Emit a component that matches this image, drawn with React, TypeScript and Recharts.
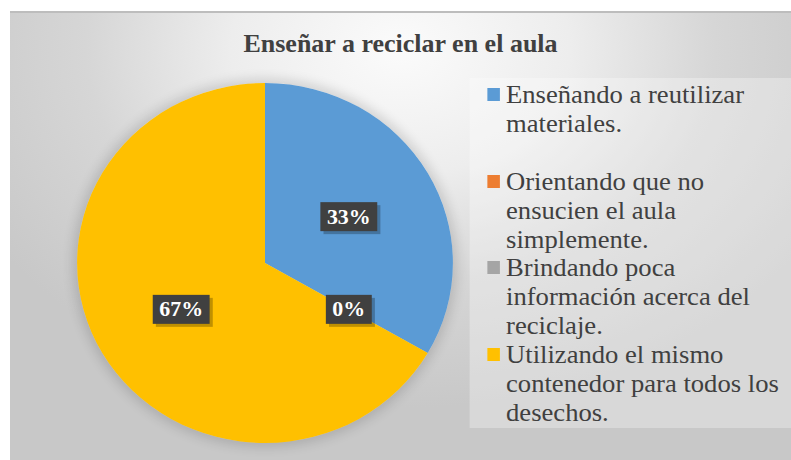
import React from "react";
import { PieChart, Pie, Cell, Legend } from "recharts";

const categories = [
  "Enseñando a reutilizar materiales.",
  "Orientando que no ensucien el aula simplemente.",
  "Brindando poca información acerca del reciclaje.",
  "Utilizando el mismo contenedor para todos los desechos.",
];
const values = [1, 0, 0, 2];
const colors = ["#5B9BD5", "#ED7D31", "#A5A5A5", "#FFC000"];

const data = categories.map((name, i) => ({ name, value: values[i] }));

const RAD = Math.PI / 180;
const serif = "'Liberation Serif', 'Times New Roman', serif";
// the source picture is slightly stretched sideways
const SX = 1.044;
const CX = 265;

const renderLabel = (props: any) => {
  const { cx, cy, midAngle, outerRadius, percent, index } = props;
  // the two empty slices share one spot, Excel shows a single 0%
  if (index === 2) return null;
  const r = outerRadius * 0.515;
  const x = cx + r * Math.cos(-midAngle * RAD);
  const y = cy + r * Math.sin(-midAngle * RAD);
  const text = `${Math.round(percent * 100)}%`;
  const w = text.length * 10.5 + 23;
  return (
    <g>
      <rect x={x - w / 2 + 3} y={y - 14.5 + 3} width={w} height={29} fill="rgba(0,0,0,0.25)" />
      <rect x={x - w / 2} y={y - 14.5} width={w} height={29} fill="#404040" />
      <text
        x={x}
        y={y + 7}
        textAnchor="middle"
        fill="#ffffff"
        fontFamily={serif}
        fontWeight="bold"
        fontSize={21}
      >
        {text}
      </text>
    </g>
  );
};

const renderLegend = () => (
  <div style={{ paddingTop: 2 }}>
    {categories.map((c, i) => (
      <div key={c} style={{ position: "relative", height: 86.5 }}>
        <div
          style={{
            position: "absolute",
            left: 16.3,
            top: 8,
            width: 12.5,
            height: 13,
            background: colors[i],
          }}
        />
        <div
          style={{
            position: "absolute",
            left: 34.5,
            top: 0,
            width: 272,
            fontFamily: serif,
            fontSize: 25.5,
            lineHeight: "29px",
            color: "#404040",
          }}
        >
          {c}
        </div>
      </div>
    ))}
  </div>
);

export default function App() {
  return (
    <div style={{ position: "absolute", left: 0, top: 0, width: 791, height: 460, background: "#fff", overflow: "hidden" }}>
      <div
        style={{
          position: "absolute",
          left: 10,
          top: 11,
          width: 781,
          height: 449,
          borderTop: "2px solid #bdbdbd",
          background:
            "radial-gradient(ellipse 62% 80% at 50% 8%, #fbfbfb 0%, #ededed 35%, #d6d6d6 65%, #c8c8c8 100%)",
        }}
      />
      <div
        style={{
          position: "absolute",
          left: CX - 180 * SX,
          top: 83,
          width: 360 * SX,
          height: 360,
          borderRadius: "50%",
          boxShadow: "0 0 12px 4px rgba(0,0,0,0.14)",
        }}
      />
      <div
        style={{
          position: "absolute",
          left: 10,
          top: 32,
          width: 781,
          textAlign: "center",
          fontFamily: serif,
          fontWeight: "bold",
          fontSize: 26,
          lineHeight: "24px",
          color: "#404040",
        }}
      >
        Enseñar a reciclar en el aula
      </div>
      <div
        style={{
          position: "absolute",
          left: 0,
          top: 0,
          transform: `scaleX(${SX})`,
          transformOrigin: `${CX}px 0px`,
        }}
      >
        <PieChart width={791} height={460} margin={{ top: 0, right: 0, bottom: 0, left: 0 }}>
          <Pie
            data={data}
            dataKey="value"
            nameKey="name"
            cx={CX}
            cy={263}
            outerRadius={180}
            startAngle={90}
            endAngle={-270}
            stroke="none"
            label={renderLabel}
            labelLine={false}
            isAnimationActive={false}
          >
            {data.map((d, i) => (
              <Cell key={d.name} fill={colors[i]} />
            ))}
          </Pie>
          <Legend
            layout="vertical"
            align="right"
            verticalAlign="top"
            content={renderLegend}
            wrapperStyle={{
              left: CX + (470 - CX) / SX,
              top: 78,
              width: 321 / SX,
              height: 350,
              background: "rgba(255,255,255,0.3)",
            }}
          />
        </PieChart>
      </div>
    </div>
  );
}
